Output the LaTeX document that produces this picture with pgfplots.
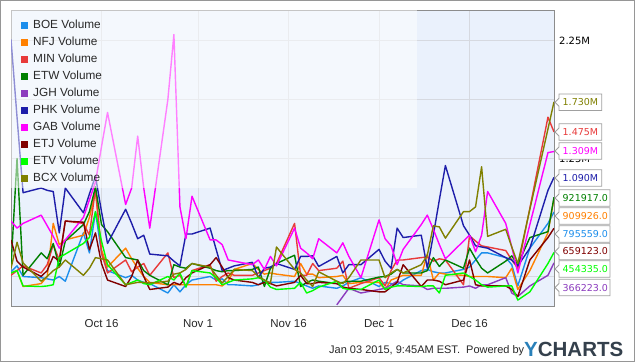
\documentclass[border=0pt]{standalone}
\usepackage{fontspec}
\setmainfont{Liberation Sans}
\newfontfamily\dejavu{DejaVu Sans}
\usepackage{pgfplots}
\usepackage{pgfplotstable}
\pgfplotsset{compat=1.18}

\definecolor{cboe}{RGB}{28,142,236}
\definecolor{cnfj}{RGB}{255,128,0}
\definecolor{cmin}{RGB}{232,58,58}
\definecolor{cetw}{RGB}{0,128,0}
\definecolor{cjgh}{RGB}{140,60,190}
\definecolor{cphk}{RGB}{30,30,170}
\definecolor{cgab}{RGB}{255,0,255}
\definecolor{cetj}{RGB}{128,0,0}
\definecolor{cetv}{RGB}{0,255,0}
\definecolor{cbcx}{RGB}{128,128,0}
\definecolor{plotbg}{RGB}{234,241,252}
\definecolor{gridgray}{RGB}{214,217,224}
\definecolor{framegray}{RGB}{140,140,140}
\definecolor{bordergray}{RGB}{150,150,150}
\definecolor{boxgray}{RGB}{160,160,160}
\definecolor{textgray}{RGB}{40,40,40}
\definecolor{ylogo}{RGB}{41,128,185}
\definecolor{clogo}{RGB}{52,64,76}

\pgfplotstableread{
d BOE NFJ MIN ETW JGH PHK GAB ETJ ETV BCX
0 .29 .28 .26 .335 nan 2.26 .72 .56 .28 .32
1 .34 .30 .30 1.25 nan 1.60 .66 .38 .30 .54
2 .25 .165 .34 .26 nan .96 .70 .33 .17 .365
5 .24 .19 .28 .45 nan 1.00 .77 .25 .165 .21
6 .23 .25 .35 .40 nan .98 .68 .30 .17 .25
7 .22 .70 .52 .53 nan .97 .59 .42 .18 .30
8 .25 .52 .39 .33 nan .62 .49 .38 .41 .33
9 .21 .56 .72 .55 nan 1.00 .56 .72 .44 .39
12 .62 .60 .70 .69 nan .79 .75 .71 .53 .26
13 .45 .75 .60 .80 nan .95 .90 .476 .58 .32
14 .80 .97 1.00 1.01 nan 1.10 1.05 .62 .80 .41
15 .45 .476 .45 .69 nan .80 1.35 .36 .55 .40
16 .30 .33 .28 .63 nan .53 1.64 .22 .35 .39
19 .24 .49 .39 .41 nan .82 .86 .165 .18 .18
20 .26 .40 .29 .40 nan .70 1.00 .25 .20 .19
21 .22 .32 .33 .39 nan .57 1.44 .39 .22 .20
22 .20 .25 .36 .30 nan .60 1.00 .25 .19 .20
23 .19 .20 .26 .26 nan .44 .66 .14 .18 .195
26 .11 .18 .45 .18 nan .425 1.75 .16 .25 .21
27 .18 .18 .24 .35 nan .38 2.30 .20 .22 .27
28 .12 .18 .26 .33 nan .34 .84 .18 .28 .28
29 .18 .18 .165 .32 nan .61 .57 .24 .16 .31
30 .22 .18 .30 .36 nan .61 .93 .28 .30 .36
33 .25 .18 .35 .32 nan .66 .56 .35 .28 .33
34 .22 .18 .21 .30 nan .48 .56 .41 .24 .26
35 .23 .17 .25 .29 nan .30 .52 .33 .18 .195
36 .18 .21 .28 .30 nan .32 .39 .24 .20 .25
37 .18 .31 .26 .30 nan .34 .38 .22 .22 .31
40 .17 .36 .26 .31 nan .37 .35 .20 .23 .30
41 .18 .31 .28 .33 nan .24 .39 .18 .24 .25
42 .21 .27 .30 .165 nan .32 .31 .20 .22 .22
43 .20 .28 .32 .32 nan .33 .42 .19 .16 .195
44 .20 .27 .36 .36 nan .36 .34 .17 .14 .50
47 .21 .25 .70 .43 nan .31 .66 .20 .15 .31
48 .19 .36 .26 .165 nan .42 .49 .26 .20 .28
49 .17 .27 .26 .20 nan .42 .45 .19 .11 .22
50 .15 .27 .36 .22 nan .425 .40 .19 .13 .165
51 .17 .24 .30 .21 nan .335 .57 .20 .16 .29
54 .15 .25 .32 .19 .01 .42 .45 .19 .21 .21
55 .17 .26 .38 .20 .08 .28 .535 .16 .15 .19
56 .20 .19 .15 .21 .15 .35 .42 .15 .14 .24
58 .24 .20 .19 .21 .11 .35 .24 .14 .14 .39
61 .165 .20 .24 .245 .14 .48 .73 .12 .22 .39
62 .20 .14 .17 .25 .15 .38 .57 .12 .14 .24
63 .19 .22 .30 .27 .18 .32 .51 .16 .16 .28
64 .18 .24 .39 .31 .21 .66 .35 .20 .17 .31
65 .22 .26 .39 .28 .18 .58 .48 .35 .17 .28
68 .30 .26 .41 .28 .17 .60 .69 .165 .165 .35
69 .31 .44 .415 .30 .14 .32 .77 .22 .17 .43
70 .29 .22 .38 .41 .15 .60 .65 .22 .17 .68
71 .28 .28 .40 .335 .15 .90 .52 .21 .11 .67
72 .28 .27 .39 .39 .15 1.19 .40 .18 .26 .575
75 .31 .26 .18 .32 .16 .68 .55 .22 .28 .80
76 .33 .25 .595 .49 .17 .60 .60 .39 .25 .80
77 .39 .25 .55 .40 .15 .51 .46 .18 .22 .84
78 .45 .25 .51 .32 .18 .50 .60 .17 .18 1.18
79 .45 .25 .50 .28 .18 .49 .97 .17 .16 .59
82 .41 .24 .47 .38 .24 .41 .70 .17 .17 .65
83 .35 .32 .39 .425 .11 .39 .50 .14 .17 .50
84 .17 .14 .32 .35 .08 .34 .28 .08 .05 .36
86 .49 .30 .83 .58 .17 .49 .69 .39 .12 .82
89 .70 .62 1.60 .63 .26 .98 1.30 .58 .36 1.50
90 .796 .91 1.475 .922 .366 1.09 1.309 .659 .454 1.73
}\voldata

\newcommand{\vlabel}[4]{% #1 center y (pgf), #2 width, #3 colour, #4 text
  \filldraw[fill=white, draw=boxgray, line width=0.8pt, line join=miter]
    (559pt,{#1pt+8.3pt}) -- ({559pt+#2pt},{#1pt+8.3pt}) -- ({559pt+#2pt},{#1pt-8.3pt})
    -- (559pt,{#1pt-8.3pt}) -- (559pt,{#1pt-4pt}) -- (555pt,{#1pt}) -- (559pt,{#1pt+4pt}) -- cycle;
  \node[anchor=base west, inner sep=0pt, text=#3, font=\dejavu\fontsize{9.5pt}{10pt}\selectfont]
    at (562.5pt,{#1pt-3.5pt}) {#4};}

\begin{document}
\begin{tikzpicture}
\useasboundingbox (0,0) rectangle (635pt,362pt);
\fill[white] (0,0) rectangle (635pt,362pt);
\begin{axis}[
  at={(11pt,56pt)}, anchor=south west, scale only axis,
  width=543pt, height=295.5pt,
  xmin=0, xmax=90, ymin=0, ymax=2.504,
  axis background/.style={fill=plotbg},
  axis line style={draw=framegray, line width=0.8pt},
  grid=major, major grid style={draw=gridgray, line width=0.8pt},
  xtick={15,31,46,61,76},
  xticklabels={Oct 16,Nov 1,Nov 16,Dec 1,Dec 16},
  ytick={0.25,0.75,1.25,1.75,2.25},
  yticklabels={,,1.25M,,2.25M},
  yticklabel pos=right,
  major tick length=0pt,
  xticklabel style={font=\fontsize{11.5pt}{12pt}\selectfont, text=textgray, anchor=north, inner sep=0pt, yshift=-13pt},
  yticklabel style={font=\dejavu\fontsize{10pt}{11pt}\selectfont, text=black, anchor=west, inner sep=0pt, xshift=5pt},
  unbounded coords=jump,
  every axis plot/.append style={line width=1.4pt, line join=round},
  legend image code/.code={\fill[#1,draw=none] (0pt,-3.5pt) rectangle (7pt,3.5pt);},
  legend cell align=left,
  legend style={at={(0.0184,0.9695)}, anchor=north west, draw=none, fill=none,
    inner sep=0pt, row sep=6pt, column sep=5pt,
    font=\fontsize{11.8pt}{12pt}\selectfont, text=textgray,
    nodes={inner sep=0pt, text height=8.5pt, text depth=2.5pt}},
]
\addplot[cboe] table[x=d,y=BOE]{\voldata}; \addlegendentry{BOE Volume}
\addplot[cnfj] table[x=d,y=NFJ]{\voldata}; \addlegendentry{NFJ Volume}
\addplot[cmin] table[x=d,y=MIN]{\voldata}; \addlegendentry{MIN Volume}
\addplot[cetw] table[x=d,y=ETW]{\voldata}; \addlegendentry{ETW Volume}
\addplot[cjgh] table[x=d,y=JGH]{\voldata}; \addlegendentry{JGH Volume}
\addplot[cphk] table[x=d,y=PHK]{\voldata}; \addlegendentry{PHK Volume}
\addplot[cgab] table[x=d,y=GAB]{\voldata}; \addlegendentry{GAB Volume}
\addplot[cetj] table[x=d,y=ETJ]{\voldata}; \addlegendentry{ETJ Volume}
\addplot[cetv] table[x=d,y=ETV]{\voldata}; \addlegendentry{ETV Volume}
\addplot[cbcx] table[x=d,y=BCX]{\voldata}; \addlegendentry{BCX Volume}
\fill[white, fill opacity=0.5] (axis cs:0,1.0017) rectangle (axis cs:67.3,2.504);
\end{axis}
\vlabel{259.7}{42.7}{cbcx}{1.730M}
\vlabel{230}{42.7}{cmin}{1.475M}
\vlabel{211}{42.7}{cgab}{1.309M}
\vlabel{184}{42.7}{cphk}{1.090M}
\vlabel{164}{51}{cetw}{921917.0}
\vlabel{146}{51}{cnfj}{909926.0}
\vlabel{128}{51}{cboe}{795559.0}
\vlabel{110.5}{51}{cetj}{659123.0}
\vlabel{93}{51}{cetv}{454335.0}
\vlabel{74.5}{51}{cjgh}{366223.0}
\node[anchor=base west, inner sep=0pt, text=textgray, font=\fontsize{11pt}{12pt}\selectfont]
  at (329pt,8.7pt) {Jan 03 2015, 9:45AM EST.\ \ Powered by};
\node[anchor=base west, inner sep=0pt, font=\bfseries\fontsize{20.5pt}{21pt}\selectfont]
  at (524pt,5.5pt) {\textcolor{ylogo}{Y}\textcolor{clogo}{CHARTS}};
\draw[bordergray, line width=1pt] (0.5pt,0.5pt) rectangle (634.5pt,361.5pt);
\end{tikzpicture}
\end{document}
